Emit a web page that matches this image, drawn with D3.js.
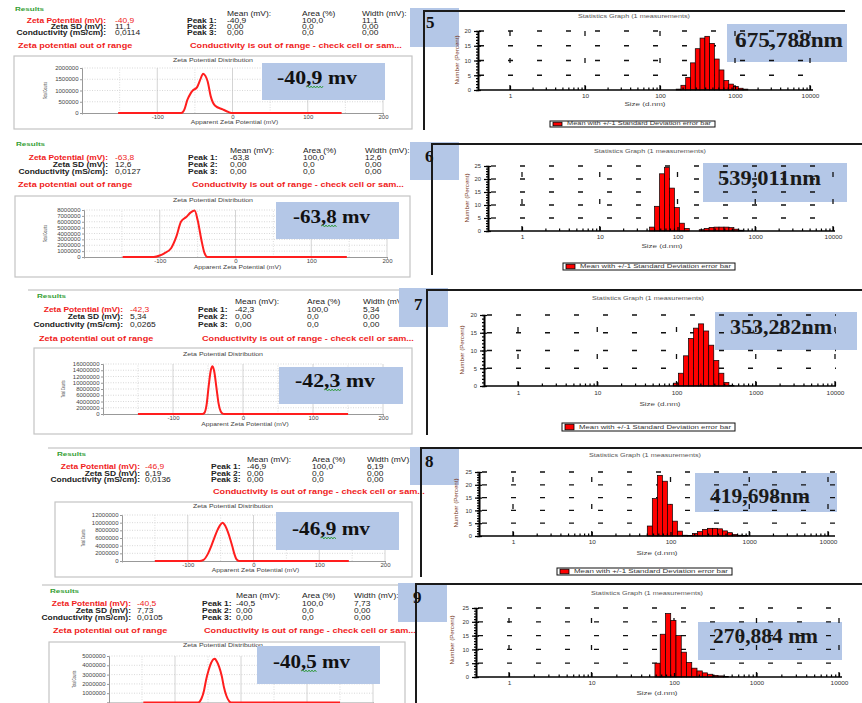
<!DOCTYPE html>
<html>
<head>
<meta charset="utf-8">
<script src="https://cdn.jsdelivr.net/npm/d3@7"></script>
<style>
  html, body { margin: 0; padding: 0; background: #fff; }
  svg { display: block; }
</style>
</head>
<body>
<svg id="chart" width="862" height="703"></svg>
<script>
// ---------- sample values ----------
const sampleNumbers = ["5", "6", "7", "8", "9"];
const zetaPotential = ["-40,9", "-63,8", "-42,3", "-46,9", "-40,5"];
const zetaSD = ["11,1", "12,6", "5,34", "6,19", "7,73"];
const conductivity = ["0,0114", "0,0127", "0,0265", "0,0136", "0,0105"];
const peakArea = ["100,0", "0,0", "0,0"];
const zetaOutOfRange = [true, true, true, false, true];
const zetaBoxLabels = ["-40,9 mv", "-63,8 mv", "-42,3 mv", "-46,9 mv", "-40,5 mv"];
const sizeBoxLabels = ["675,788nm", "539,011nm", "353,282nm", "419,698nm", "270,884 nm"];

// ---------- zeta potential distributions (mV, total counts) ----------
const zetaXTicks = [-100, 0, 100, 200];
const zetaYMax = [2000000, 8000000, 16000000, 12000000, 5000000];
const zetaYTicks = [
  [0, 500000, 1000000, 1500000, 2000000],
  [0, 1000000, 2000000, 3000000, 4000000, 5000000, 6000000, 7000000, 8000000],
  [0, 2000000, 4000000, 6000000, 8000000, 10000000, 12000000, 14000000, 16000000],
  [0, 2000000, 4000000, 6000000, 8000000, 10000000, 12000000],
  [0, 1000000, 2000000, 3000000, 4000000, 5000000]
];
const zetaCurve5 = [[-152, 0], [-68, 0], [-64, 150000], [-60, 580000], [-56, 850000], [-53, 990000],
  [-47, 1150000], [-43, 1470000], [-39, 1750000], [-36, 1650000], [-33, 1400000], [-29, 750000],
  [-23, 320000], [-13, 160000], [-5, 40000], [-2, 0], [145, 0]];
const zetaCurve6 = [[-149, 0], [-108, 0], [-100, 250000], [-94, 630000], [-85, 1500000], [-78, 3500000],
  [-72, 6000000], [-65, 6800000], [-59, 7600000], [-54, 7900000], [-50, 6300000], [-45, 2900000],
  [-41, 700000], [-37, 0], [147, 0]];
const zetaCurve7 = [[-150, 0], [-58, 0], [-55, 400000], [-52, 3000000], [-49, 9000000], [-46, 14000000],
  [-43.5, 15300000], [-41, 13500000], [-38, 8500000], [-35, 3500000], [-32, 900000], [-29, 100000],
  [-27, 0], [150, 0]];
const zetaCurve8 = [[-150, 0], [-82, 0], [-76, 300000], [-69, 2000000], [-64, 4000000], [-59, 6300000],
  [-55, 8000000], [-51, 9300000], [-47, 10000000], [-43, 9200000], [-39, 7600000], [-35, 5500000],
  [-32, 3700000], [-29, 1800000], [-26, 500000], [-22, 0], [145, 0]];
const zetaCurve9 = [[-148, 0], [-65, 0], [-60, 400000], [-56, 1300000], [-53, 2400000], [-49, 3500000],
  [-45, 4300000], [-42, 4650000], [-39.5, 4700000], [-37, 4450000], [-33, 3800000], [-29, 2800000],
  [-26, 1700000], [-22, 700000], [-18, 150000], [-15, 0], [150, 0]];
const zetaCurves = [zetaCurve5, zetaCurve6, zetaCurve7, zetaCurve8, zetaCurve9];

// ---------- size distributions by number (size class lower edge in d.nm, percent) ----------
const sizeXTicks = [1, 10, 100, 1000, 10000];
const sizeXMinorTicks = [2, 3, 4, 5, 6, 7, 8, 9, 20, 30, 40, 50, 60, 70, 80, 90,
  200, 300, 400, 500, 600, 700, 800, 900, 2000, 3000, 4000, 5000, 6000, 7000, 8000, 9000];
const sizeYMax = [20, 25, 20, 25, 25];
const sizeYTicks = [
  [0, 5, 10, 15, 20],
  [0, 5, 10, 15, 20, 25],
  [0, 5, 10, 15, 20],
  [0, 5, 10, 15, 20, 25],
  [0, 5, 10, 15, 20, 25]
];
const sizeClasses = [0.4, 0.4632, 0.5365, 0.6213, 0.7195, 0.8332, 0.9649, 1.117, 1.294, 1.499,
  1.736, 2.01, 2.328, 2.696, 3.122, 3.615, 4.187, 4.849, 5.615, 6.503, 7.531, 8.721, 10.1, 11.7,
  13.54, 15.69, 18.17, 21.04, 24.36, 28.21, 32.67, 37.84, 43.82, 50.75, 58.77, 68.06, 78.82, 91.28,
  105.7, 122.4, 141.8, 164.2, 190.1, 220.2, 255.0, 295.3, 342.0, 396.1, 458.7, 531.2, 615.1, 712.4,
  825.0, 955.4, 1106, 1281, 1484, 1718, 1990, 2305, 2669, 3091, 3580, 4145, 4801, 5560, 6439, 7456,
  8635, 10000];
const sizeHist5 = [[164.2, 0.3], [190.1, 1.6], [220.2, 4.3], [255.0, 9.2], [295.3, 14.0], [342.0, 17.6],
  [396.1, 18.2], [458.7, 15.8], [531.2, 10.5], [615.1, 6.8], [712.4, 3.2], [825.0, 2.0], [955.4, 1.2],
  [1106, 0.6], [1281, 0.3]];
const sizeHist6 = [[43.82, 1.5], [50.75, 9.5], [58.77, 22.0], [68.06, 24.5], [78.82, 16.5], [91.28, 9.0],
  [105.7, 3.0], [122.4, 1.0], [190.1, 0.5], [220.2, 1.0], [255.0, 1.4], [295.3, 1.5], [342.0, 1.5],
  [396.1, 1.5], [458.7, 1.3], [531.2, 0.7], [615.1, 0.3]];
const sizeHist7 = [[91.28, 0.8], [105.7, 3.6], [122.4, 8.5], [141.8, 13.4], [164.2, 16.3], [190.1, 17.5],
  [220.2, 15.5], [255.0, 11.5], [295.3, 7.2], [342.0, 3.6], [396.1, 1.0], [458.7, 0.2]];
const sizeHist8 = [[50.75, 3.9], [58.77, 14.6], [68.06, 23.7], [78.82, 21.4], [91.28, 12.4], [105.7, 5.8],
  [122.4, 1.9], [141.8, 0.3], [164.2, 0.2], [190.1, 1.0], [220.2, 1.7], [255.0, 2.6], [295.3, 3.0],
  [342.0, 3.0], [396.1, 2.8], [458.7, 2.0], [531.2, 1.3], [615.1, 0.6], [712.4, 0.3], [825.0, 0.2]];
const sizeHist9 = [[58.77, 5.0], [68.06, 15.5], [78.82, 23.0], [91.28, 20.5], [105.7, 15.0], [122.4, 9.0],
  [141.8, 5.3], [164.2, 3.2], [190.1, 2.2], [220.2, 1.5], [255.0, 1.0], [295.3, 0.6], [342.0, 0.4],
  [396.1, 0.2]];
const sizeHists = [sizeHist5, sizeHist6, sizeHist7, sizeHist8, sizeHist9];

// ---------- page layout ----------
const PAGE_H = 703;
const zetaLayout = [
  { top: null, res: [15, 11], head: 16, rows: [23, 29, 35], labEnd: 106, val: 115, peak: 187, mean: 227, area: 302, width: 362,
    warnY: 48, warn1: 18, warn2: 190, frame: [14, 56, 412, 129], title: [213, 62], px: [82, 383], py: [113, 68],
    xlab: 123.5, ylab: 47, box: [262, 63, 385, 100], boxText: [277, 84, 80] },
  { top: null, res: [16, 146], head: 153, rows: [160, 167, 174], labEnd: 108, val: 115, peak: 188, mean: 230, area: 303, width: 365,
    warnY: 187, warn1: 18, warn2: 192, frame: [15, 196, 410, 277], title: [213, 202], px: [84, 387], py: [257, 210],
    xlab: 268.5, ylab: 47, box: [276, 202, 399, 239], boxText: [293, 223, 77] },
  { top: [28, 290, 400], res: [37, 298], head: 304, rows: [312, 319, 327], labEnd: 123, val: 130, peak: 198, mean: 235, area: 307, width: 363,
    warnY: 341, warn1: 39, warn2: 202, frame: [34, 348, 412, 434], title: [223, 356], px: [103, 383], py: [414, 364],
    xlab: 425.5, ylab: 65, box: [279, 367, 403, 404], boxText: [295, 387, 80] },
  { top: [48, 448, 410], res: [57, 456], head: 462, rows: [469, 476, 482], labEnd: 140, val: 145, peak: 211, mean: 247, area: 312, width: 367,
    warnY: 494, warn1: 59, warn2: 213, frame: [55, 502, 412, 577], title: [233, 508], px: [122, 385], py: [561, 515],
    xlab: 571.5, ylab: 85, box: [276, 512, 399, 550], boxText: [292, 535, 78] },
  { top: [42, 585, 415], res: [50, 593], head: 598, rows: [606, 613, 620], labEnd: 131, val: 137, peak: 202, mean: 236, area: 302, width: 354,
    warnY: 633, warn1: 53, warn2: 204, frame: [49, 642, 405, 740], title: [223, 647], px: [109, 373], py: [702.5, 656],
    xlab: 712, ylab: 76, box: [257, 646, 380, 684], boxText: [273, 668, 77] }
];
const sizeLayout = [
  { frame: [424, 11, 130, 845], axisX: 478, xEnd: 813, x1: 510, x4: 810, y0: 90, yTop: 31, title: [634, 18], xlab: [645, 106],
    ylab: [459, 60], tickPad: 4, legend: [550, 121, 715, 127], box: [727, 24, 847, 62], boxText: [735, 47, 108, 22],
    num: [410, 8, 459, 47], numText: [426, 28] },
  { frame: [432, 144, 275, 862], axisX: 488, xEnd: 835, x1: 522, x4: 833, y0: 231, yTop: 166, title: [650, 153], xlab: [662, 248],
    ylab: [469, 198], tickPad: 4, legend: [563, 263, 735, 270], box: [703, 163, 847, 202], boxText: [718, 185, 103, 22],
    num: [410, 142, 459, 180], numText: [425, 162] },
  { frame: [427, 290, 435, 862], axisX: 484, xEnd: 836, x1: 518, x4: 835, y0: 386, yTop: 315, title: [648, 300], xlab: [660, 406],
    ylab: [464, 350], tickPad: 5, legend: [562, 423, 735, 431], box: [715, 312, 857, 350], boxText: [730, 334, 102, 21],
    num: [399, 288, 448, 327], numText: [414, 310] },
  { frame: [421, 448, 577, 862], axisX: 479, xEnd: 835, x1: 513, x4: 828, y0: 536, yTop: 472, title: [645, 457], xlab: [657, 555],
    ylab: [458, 503], tickPad: 4, legend: [557, 568, 732, 575], box: [695, 473, 837, 512], boxText: [710, 503, 100, 22],
    num: [410, 447, 459, 485], numText: [425, 467] },
  { frame: [416, 584, 703, 862], axisX: 476, xEnd: 842, x1: 509, x4: 839, y0: 677, yTop: 608, title: [647, 595], xlab: [657, 695],
    ylab: [454, 640], tickPad: 4, legend: null, box: [698, 622, 842, 660], boxText: [713, 643, 105, 22],
    num: [398, 583, 447, 622], numText: [413, 603] }
];

// ---------- drawing ----------
const svg = d3.select("#chart");
const SANS = "Arial, 'Liberation Sans', sans-serif";
const SERIF = "'Times New Roman', 'Liberation Serif', serif";
const BOX_BLUE = "#b4c7e7";
const RED = "#f01c1c";

// widen a text horizontally by factor sx, keeping its anchor point
function widen(t, sx) {
  const w = t.node().getComputedTextLength();
  if (w > 0) t.attr("textLength", w * sx).attr("lengthAdjust", "spacingAndGlyphs");
}

function txt(g, x, y, s, o = {}) {
  const t = g.append("text")
    .attr("x", x).attr("y", y)
    .attr("font-family", o.family || SANS)
    .attr("font-size", o.size || 6.5)
    .attr("font-weight", o.weight || "normal")
    .attr("fill", o.fill || "#222")
    .attr("text-anchor", o.anchor || "start")
    .text(s);
  if (o.len) t.attr("textLength", o.len).attr("lengthAdjust", "spacingAndGlyphs");
  else if (o.sx) widen(t, o.sx);
  if (o.rotate) t.attr("transform", `rotate(-90,${x},${y})`);
  return t;
}

function squiggle(g, xa, xb, y) {
  let d = `M${xa},${y}`;
  let up = true;
  for (let x = xa + 1.5; x <= xb; x += 1.5) { d += `L${x},${y + (up ? -1 : 1)}`; up = !up; }
  g.append("path").attr("d", d).attr("fill", "none").attr("stroke", "#2f9a3a").attr("stroke-width", 0.9);
}

function drawZeta(i) {
  const L = zetaLayout[i];
  const g = svg.append("g");
  if (L.top) g.append("line").attr("x1", L.top[0]).attr("x2", L.top[2]).attr("y1", L.top[1]).attr("y2", L.top[1])
    .attr("stroke", "#cfcfcf").attr("stroke-width", 1.5);

  const T = { size: 6.6, sx: 1.28 };
  txt(g, L.res[0], L.res[1], "Results", { fill: "#33a033", weight: "bold", size: 6.2, sx: 1.3 });
  txt(g, L.mean, L.head, "Mean (mV):", T);
  txt(g, L.area, L.head, "Area (%)", T);
  txt(g, L.width, L.head, "Width (mV):", T);

  const labels = ["Zeta Potential (mV):", "Zeta SD (mV):", "Conductivity (mS/cm):"];
  const values = [zetaPotential[i], zetaSD[i], conductivity[i]];
  const peakMean = [zetaPotential[i], "0,00", "0,00"];
  const peakWidth = [zetaSD[i], "0,00", "0,00"];
  labels.forEach((lab, k) => {
    const y = L.rows[k];
    const c = k === 0 ? RED : "#222";
    txt(g, L.labEnd, y, lab, { ...T, anchor: "end", weight: "bold", fill: c });
    txt(g, L.val, y, values[k], { ...T, fill: c });
    txt(g, L.peak, y, `Peak ${k + 1}:`, { ...T, weight: "bold" });
    txt(g, L.mean, y, peakMean[k], T);
    txt(g, L.area, y, peakArea[k], T);
    txt(g, L.width, y, peakWidth[k], T);
  });
  const W = { fill: RED, weight: "bold", size: 6.6, sx: 1.38 };
  if (zetaOutOfRange[i]) txt(g, L.warn1, L.warnY, "Zeta potential out of range", W);
  txt(g, L.warn2, L.warnY, "Conductivity is out of range - check cell or sam...", W);

  // chart frame
  const f = L.frame;
  g.append("rect").attr("x", f[0]).attr("y", f[1]).attr("width", f[2] - f[0]).attr("height", f[3] - f[1])
    .attr("fill", "#fff").attr("stroke", "#c4c4c4").attr("stroke-width", 1.2);
  txt(g, L.title[0], L.title[1], "Zeta Potential Distribution", { anchor: "middle", size: 5.6, fill: "#444", sx: 1.25 });

  const x = d3.scaleLinear().domain([-200, 200]).range(L.px);
  const y = d3.scaleLinear().domain([0, zetaYMax[i]]).range(L.py);
  const ticksY = zetaYTicks[i];

  // grid
  const grid = g.append("g");
  [-150, -50, 50, 150].forEach(v => grid.append("line").attr("x1", x(v)).attr("x2", x(v))
    .attr("y1", L.py[0]).attr("y2", L.py[1]).attr("stroke", "#c8c8c8").attr("stroke-dasharray", "1,1.5").attr("stroke-width", 0.6));
  zetaXTicks.forEach(v => grid.append("line").attr("x1", x(v)).attr("x2", x(v))
    .attr("y1", L.py[0]).attr("y2", L.py[1]).attr("stroke", "#d4d4d4").attr("stroke-width", 1));
  ticksY.slice(1).forEach(v => grid.append("line").attr("x1", L.px[0]).attr("x2", L.px[1])
    .attr("y1", y(v)).attr("y2", y(v)).attr("stroke", "#c0c0c0").attr("stroke-dasharray", "1,1.5").attr("stroke-width", 0.6));

  const ax = g.append("g").attr("transform", `translate(0,${L.py[0]})`)
    .call(d3.axisBottom(x).tickValues(zetaXTicks).tickSize(1.5).tickPadding(1).tickFormat(d => String(d)));
  const ay = g.append("g").attr("transform", `translate(${L.px[0]},0)`)
    .call(d3.axisLeft(y).tickValues(ticksY).tickSize(2).tickPadding(1.5).tickFormat(d => String(d)));
  [ax, ay].forEach(a => {
    a.select(".domain").attr("stroke", "#999");
    a.selectAll(".tick line").attr("stroke", "#999");
    a.selectAll("text").attr("font-size", 4.8).attr("font-family", SANS).attr("fill", "#444")
      .each(function () { widen(d3.select(this), 1.25); });
  });
  // labels that would fall below the page are left out
  if (L.py[0] + 5 > PAGE_H) ax.selectAll("text").remove();
  ay.selectAll(".tick").filter(d => y(d) + 2 > PAGE_H).select("text").remove();
  if (L.xlab < PAGE_H) txt(g, (L.px[0] + L.px[1]) / 2 + 2, L.xlab, "Apparent Zeta Potential (mV)", { anchor: "middle", size: 5.4, fill: "#444", sx: 1.25 });
  txt(g, L.ylab, (L.py[0] + L.py[1]) / 2, "Total Counts", { anchor: "middle", size: 5, fill: "#444", rotate: true, len: 17 });

  const line = d3.line().x(d => x(d[0])).y(d => y(d[1])).curve(d3.curveMonotoneX);
  g.append("path").datum(zetaCurves[i]).attr("d", line).attr("fill", "none")
    .attr("stroke", "#ff1e1e").attr("stroke-width", 2).attr("stroke-linejoin", "round");

  // value box
  const b = L.box;
  g.append("rect").attr("x", b[0]).attr("y", b[1]).attr("width", b[2] - b[0]).attr("height", b[3] - b[1]).attr("fill", BOX_BLUE);
  const bt = L.boxText;
  txt(g, bt[0], bt[1], zetaBoxLabels[i], { family: SERIF, weight: "bold", size: 18, fill: "#111", len: bt[2] });
  squiggle(g, bt[0] + bt[2] * 0.37, bt[0] + bt[2] * 0.58, bt[1] + 3);
}

function drawSize(i) {
  const R = sizeLayout[i];
  const g = svg.append("g");

  // sample number box
  const n = R.num;
  g.append("rect").attr("x", n[0]).attr("y", n[1]).attr("width", n[2] - n[0]).attr("height", n[3] - n[1]).attr("fill", BOX_BLUE);

  // panel border
  const f = R.frame;
  g.append("path").attr("d", `M${f[0]},${f[2]}V${f[1]}H${f[3]}`).attr("fill", "none").attr("stroke", "#1a1a1a").attr("stroke-width", 2);
  txt(g, R.numText[0], R.numText[1], sampleNumbers[i], { family: SERIF, weight: "bold", size: 17, fill: "#111" });

  const x = d3.scaleLog().domain([1, 10000]).range([R.x1, R.x4]);
  const yMax = sizeYMax[i];
  const y = d3.scaleLinear().domain([0, yMax]).range([R.y0, R.yTop]);

  // value box (grid marks run over it)
  const b = R.box;
  g.append("rect").attr("x", b[0]).attr("y", b[1]).attr("width", b[2] - b[0]).attr("height", b[3] - b[1]).attr("fill", BOX_BLUE);

  txt(g, R.title[0], R.title[1], "Statistics Graph (1 measurements)", { anchor: "middle", size: 5.8, fill: "#555", sx: 1.25 });

  // dashed grid
  const grid = g.append("g").attr("stroke", "#111").attr("stroke-width", 1.3);
  sizeYTicks[i].slice(1).forEach(v => grid.append("line")
    .attr("x1", R.axisX).attr("x2", R.xEnd).attr("y1", y(v)).attr("y2", y(v))
    .attr("stroke-dasharray", "5,24").attr("stroke-dashoffset", -((R.x1 - R.axisX) % 29) + 2));
  sizeXTicks.forEach(v => grid.append("line")
    .attr("x1", x(v)).attr("x2", x(v)).attr("y1", R.y0).attr("y2", R.yTop)
    .attr("stroke-dasharray", "5,22"));

  // bars
  g.append("g").selectAll("rect").data(sizeHists[i]).join("rect")
    .attr("x", d => x(d[0]))
    .attr("width", d => x(sizeClasses[sizeClasses.indexOf(d[0]) + 1]) - x(d[0]))
    .attr("y", d => y(d[1]))
    .attr("height", d => R.y0 - y(d[1]))
    .attr("fill", "#ff0000").attr("stroke", "#000").attr("stroke-width", 0.7);

  // x axis (log) with minor ticks
  const axMinor = g.append("g").attr("transform", `translate(0,${R.y0})`)
    .call(d3.axisBottom(x).tickValues(sizeXMinorTicks).tickSize(-2.5).tickFormat(""));
  const axMajor = g.append("g").attr("transform", `translate(0,${R.y0})`)
    .call(d3.axisBottom(x).tickValues(sizeXTicks).tickSize(-4).tickPadding(R.tickPad).tickFormat(d => String(d)));
  [axMinor, axMajor].forEach(a => {
    a.select(".domain").remove();
    a.selectAll(".tick line").attr("stroke", "#000").attr("stroke-width", 1.2);
    a.selectAll("text").attr("font-size", 5.6).attr("font-family", SANS).attr("fill", "#333")
      .each(function () { widen(d3.select(this), 1.15); });
  });
  g.append("line").attr("x1", R.axisX).attr("x2", R.xEnd).attr("y1", R.y0).attr("y2", R.y0)
    .attr("stroke", "#000").attr("stroke-width", 1.6);

  // y axis with unit minor ticks
  const minorY = d3.range(0, yMax + 1);
  const ayMinor = g.append("g").attr("transform", `translate(${R.axisX},0)`)
    .call(d3.axisLeft(y).tickValues(minorY).tickSize(2).tickFormat(""));
  const ayMajor = g.append("g").attr("transform", `translate(${R.axisX},0)`)
    .call(d3.axisLeft(y).tickValues(sizeYTicks[i]).tickSizeInner(4).tickSizeOuter(0).tickPadding(3).tickFormat(d => String(d)));
  [ayMinor, ayMajor].forEach(a => {
    a.select(".domain").attr("stroke", "#000").attr("stroke-width", 1.6);
    a.selectAll(".tick line").attr("stroke", "#000").attr("stroke-width", 1.2);
    a.selectAll("text").attr("font-size", 5.8).attr("font-family", SANS).attr("fill", "#333");
  });
  ayMajor.selectAll(".tick line").attr("x2", 3).attr("x1", -4);

  txt(g, R.xlab[0], R.xlab[1], "Size (d.nm)", { anchor: "middle", size: 6.2, fill: "#444", sx: 1.3 });
  txt(g, R.ylab[0], R.ylab[1], "Number (Percent)", { anchor: "middle", size: 6.2, fill: "#7a3e2a", rotate: true });

  // legend
  const lg = R.legend;
  if (lg) {
    g.append("rect").attr("x", lg[0]).attr("y", lg[1]).attr("width", lg[2] - lg[0]).attr("height", lg[3] - lg[1])
      .attr("fill", "#fff").attr("stroke", "#111").attr("stroke-width", 1);
    g.append("rect").attr("x", lg[0] + 3).attr("y", lg[1] + 1.2).attr("width", 9).attr("height", lg[3] - lg[1] - 2.4)
      .attr("fill", "#ff0000").attr("stroke", "#000").attr("stroke-width", 0.8);
    txt(g, lg[0] + 17, lg[3] - 1.6, "Mean with +/-1 Standard Deviation error bar", { size: 5, fill: "#333", len: lg[2] - lg[0] - 21 });
  }

  // value text
  const bt = R.boxText;
  txt(g, bt[0], bt[1], sizeBoxLabels[i], { family: SERIF, weight: "bold", size: bt[3], fill: "#1a1a1a", len: bt[2] });
}

for (let i = 0; i < 5; i++) drawZeta(i);
for (let i = 0; i < 5; i++) drawSize(i);
</script>
</body>
</html>
